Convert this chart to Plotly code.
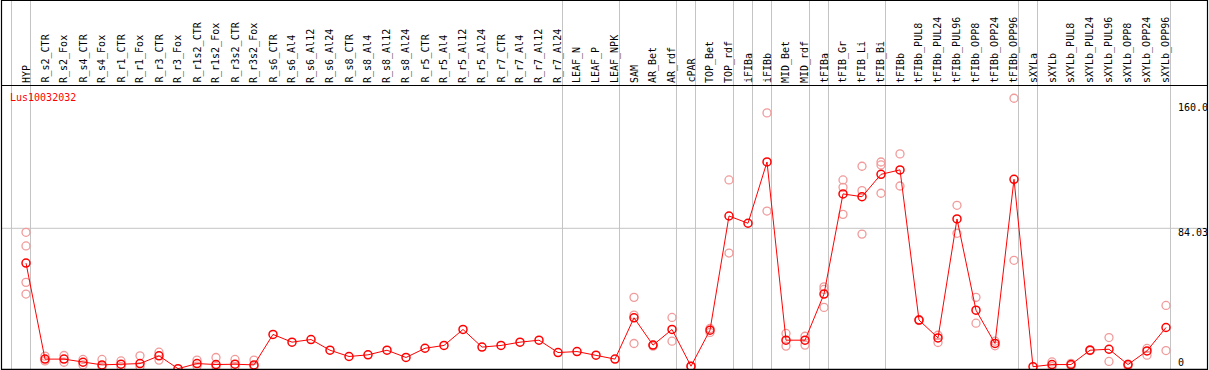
import plotly.graph_objects as go

categories = ["HYP", "R_s2_CTR", "R_s2_Fox", "R_s4_CTR", "R_s4_Fox", "R_r1_CTR", "R_r1_Fox",
              "R_r3_CTR", "R_r3_Fox", "R_r1s2_CTR", "R_r1s2_Fox", "R_r3s2_CTR", "R_r3s2_Fox",
              "R_s6_CTR", "R_s6_Al4", "R_s6_Al12", "R_s6_Al24", "R_s8_CTR", "R_s8_Al4", "R_s8_Al12",
              "R_s8_Al24", "R_r5_CTR", "R_r5_Al4", "R_r5_Al12", "R_r5_Al24", "R_r7_CTR", "R_r7_Al4",
              "R_r7_Al12", "R_r7_Al24", "LEAF_N", "LEAF_P", "LEAF_NPK", "SAM", "AR_Bet", "AR_rdf",
              "cPAR", "TOP_Bet", "TOP_rdf", "iFIBa", "iFIBb", "MID_Bet", "MID_rdf", "tFIBa",
              "tFIB_Gr", "tFIB_Li", "tFIB_Bi", "tFIBb", "tFIBb_PUL8", "tFIBb_PUL24", "tFIBb_PUL96",
              "tFIBb_OPP8", "tFIBb_OPP24", "tFIBb_OPP96", "sXYLa", "sXYLb", "sXYLb_PUL8",
              "sXYLb_PUL24", "sXYLb_PUL96", "sXYLb_OPP8", "sXYLb_OPP24", "sXYLb_OPP96"]

means = [62.9, 4.6, 4.6, 2.7, 1.1, 1.5, 1.9, 6.6, -1.2, 1.9, 1.3, 1.5, 1.1,
         19.6, 14.9, 16.5, 10.0, 6.2, 7.2, 10.0, 5.6, 11.2, 12.9, 22.6, 11.9, 12.9, 14.9,
         16.1, 8.6, 9.2, 7.0, 4.6, 29.7, 13.1, 22.6, 0.3, 22.2, 91.5, 87.1, 124.3, 16.1,
         16.1, 44.1, 104.9, 103.2, 116.8, 119.5, 28.3, 17.5, 89.7, 34.3, 14.1, 113.8,
         0.0, 1.3, 1.3, 10.0, 10.6, 1.3, 9.6, 23.8]

N = None
rep_a = [81.6, 6.4, 6.8, 4.4, 4.4, 3.5, 6.6, 8.8, N, 4.0, 5.6, 4.4, 4.0,
         N, N, N, N, N, N, N, N, N, N, N, N, N, N, N, N, N, N, N,
         42.1, 13.1, 29.9, 0.3, 23.2, 113.4, N, 154.1, 20.2, 18.5, 48.5, 113.4, 121.7, 124.3,
         129.2, 28.6, 19.1, 98.0, 42.1, 15.5, 163.0, N, 2.9, 2.0, 10.3, 17.7, 1.6, 11.1, 37.2]
rep_b = [73.3, 3.5, 2.7, 1.1, 0.0, 0.0, 0.0, 4.0, N, 0.3, 0.0, 0.0, 0.0,
         N, N, N, N, N, N, N, N, N, N, N, N, N, N, N, N, N, N, N,
         31.3, 12.5, 15.5, 0.0, 20.8, 69.0, N, 94.5, 12.5, 13.1, 46.9, 108.9, 106.9, 122.5,
         109.7, 28.0, 14.7, 81.0, 26.4, 12.7, 64.6, N, 0.0, 0.6, 9.7, 3.2, 0.5, 7.0, 9.8]
rep_c = [51.2, N, N, N, N, N, N, N, N, N, N, N, N,
         N, N, N, N, N, N, N, N, N, N, N, N, N, N, N, N, N, N, N,
         14.1, N, N, N, N, N, N, N, N, N, 36.0, 92.5, 80.5, 105.3,
         N, N, N, N, N, N, N, N, N, N, N, N, N, N, N]
rep_d = [44.1] + [N] * 60

boundaries_after = [-1, 0, 28, 31, 34, 35, 37, 38, 39, 41, 42, 45, 52, 53, 60]
y_ticks = [160.0, 84.03, 0]
y_tick_text = ["160.0", "84.03", "0"]
gene = "Lus10032032"

W, H = 1209, 370
X0, DX = 26.0, 19.0           # pixel of first category, spacing
Y0, DY = 366.7, 1.647         # pixel of zero, pixels per unit
xr = [(0 - X0) / DX, (W - X0) / DX]
yr = [(Y0 - H) / DY, Y0 / DY]

def px(x):
    return x / W

def py(y):
    return 1 - y / H

idx = list(range(len(categories)))
fig = go.Figure()

rx, ry = [], []
for reps in (rep_a, rep_b, rep_c, rep_d):
    for i, v in zip(idx, reps):
        if v is not None:
            rx.append(i)
            ry.append(v)

fig.add_trace(go.Scatter(x=rx, y=ry, mode="markers",
                         marker=dict(symbol="circle-open", size=8, color="#F09A9A",
                                     line=dict(width=1.3, color="#F09A9A")),
                         hoverinfo="skip", showlegend=False, cliponaxis=False))
fig.add_trace(go.Scatter(x=idx, y=means, mode="lines+markers",
                         line=dict(color="#FF0000", width=1),
                         marker=dict(symbol="circle-open", size=8, color="#FF0000",
                                     line=dict(width=1.5, color="#FF0000")),
                         showlegend=False, cliponaxis=False))

shapes = []
for b in boundaries_after:
    xb = b + 0.237
    shapes.append(dict(type="line", xref="x", yref="paper", x0=xb, x1=xb,
                       y0=py(369), y1=py(0), line=dict(color="#C4C4C4", width=1), layer="below"))
shapes.append(dict(type="line", xref="paper", yref="y", x0=px(1.5), x1=px(1207), y0=84.03, y1=84.03,
                   line=dict(color="#C4C4C4", width=1), layer="below"))
# frame and header separator
shapes.append(dict(type="rect", xref="paper", yref="paper", x0=px(1.5), x1=px(1207.5),
                   y0=py(369.3), y1=py(0.5), line=dict(color="black", width=1.2)))
shapes.append(dict(type="line", xref="paper", yref="paper", x0=px(1.5), x1=px(1207.5),
                   y0=py(85.5), y1=py(85.5), line=dict(color="black", width=1.2)))

FONT = "DejaVu Sans Mono"
ann = []
for i, c in enumerate(categories):
    ann.append(dict(x=i, xref="x", y=py(84), yref="paper", text=c, showarrow=False,
                    textangle=-90, xanchor="center", yanchor="bottom", borderpad=0,
                    font=dict(family=FONT, size=10, color="black")))
ann.append(dict(x=px(9), xref="paper", y=py(91), yref="paper", text=gene, showarrow=False,
                xanchor="left", yanchor="top", borderpad=0,
                font=dict(family=FONT, size=10, color="#FF0000")))
for v, t in zip(y_ticks, y_tick_text):
    ann.append(dict(x=px(1177), xref="paper", y=v, yref="y", text=t, showarrow=False,
                    xanchor="left", yanchor="bottom" if v == 0 else "top", borderpad=0,
                    yshift=-2 if v == 0 else 2,
                    font=dict(family=FONT, size=10, color="black")))

fig.update_layout(width=W, height=H, margin=dict(l=0, r=0, t=0, b=0),
                  paper_bgcolor="white", plot_bgcolor="white",
                  xaxis=dict(range=xr, visible=False, fixedrange=True),
                  yaxis=dict(range=yr, visible=False, fixedrange=True),
                  shapes=shapes, annotations=ann)

fig.write_html("out.html", config={"displayModeBar": False},
               post_script="document.body.style.margin='0';document.body.style.overflow='hidden';")
